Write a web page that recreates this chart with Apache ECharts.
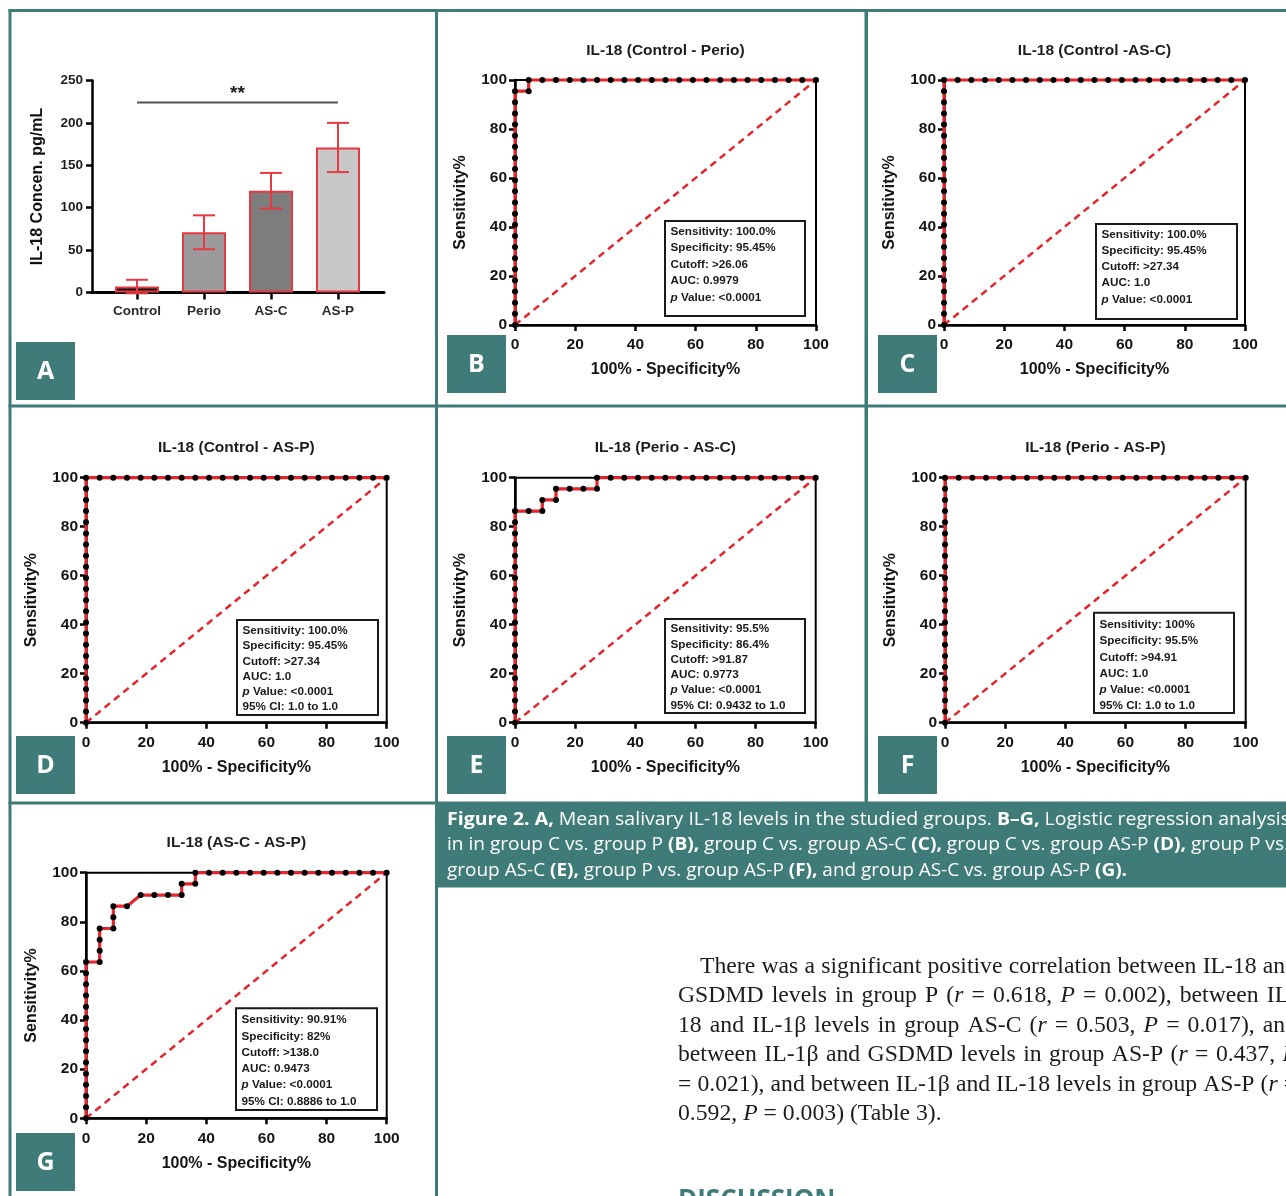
<!DOCTYPE html>
<html>
<head>
<meta charset="utf-8">
<title>Figure 2 – salivary IL-18 and ROC analysis</title>
<script src="https://cdn.jsdelivr.net/npm/echarts@6/dist/echarts.min.js"></script>
<style>
  html, body { margin: 0; padding: 0; background: #fff; }
  #fig { width: 1286px; height: 1196px; }
</style>
</head>
<body>
<div id="fig"></div>
<script>
// ---------------- Panel A: mean salivary IL-18 (pg/mL) ----------------
const groups = ['Control', 'Perio', 'AS-C', 'AS-P'];
const il18Mean = [7, 71, 120, 171];
const il18Err = [8, 20, 21, 29];
// significance bracket: [from group index, to group index, level]
const sigBracket = [[0, 3, 224]];
const sigLabels = ['**'];

// ---------------- Panels B–G: ROC points [100% - specificity, sensitivity] ----------------
const rocB = [[0,0],[0,4.55],[0,9.09],[0,13.64],[0,18.18],[0,22.73],[0,27.27],[0,31.82],[0,36.36],[0,40.91],[0,45.45],[0,50],[0,54.55],[0,59.09],[0,63.64],[0,68.18],[0,72.73],[0,77.27],[0,81.82],[0,86.36],[0,90.91],[0,95.45],[4.55,95.45],[4.55,100],[9.09,100],[13.64,100],[18.18,100],[22.73,100],[27.27,100],[31.82,100],[36.36,100],[40.91,100],[45.45,100],[50,100],[54.55,100],[59.09,100],[63.64,100],[68.18,100],[72.73,100],[77.27,100],[81.82,100],[86.36,100],[90.91,100],[95.45,100],[100,100]];
const rocC = [[0,0],[0,4.55],[0,9.09],[0,13.64],[0,18.18],[0,22.73],[0,27.27],[0,31.82],[0,36.36],[0,40.91],[0,45.45],[0,50],[0,54.55],[0,59.09],[0,63.64],[0,68.18],[0,72.73],[0,77.27],[0,81.82],[0,86.36],[0,90.91],[0,95.45],[0,100],[4.55,100],[9.09,100],[13.64,100],[18.18,100],[22.73,100],[27.27,100],[31.82,100],[36.36,100],[40.91,100],[45.45,100],[50,100],[54.55,100],[59.09,100],[63.64,100],[68.18,100],[72.73,100],[77.27,100],[81.82,100],[86.36,100],[90.91,100],[95.45,100],[100,100]];
const rocD = [[0,0],[0,4.55],[0,9.09],[0,13.64],[0,18.18],[0,22.73],[0,27.27],[0,31.82],[0,36.36],[0,40.91],[0,45.45],[0,50],[0,54.55],[0,59.09],[0,63.64],[0,68.18],[0,72.73],[0,77.27],[0,81.82],[0,86.36],[0,90.91],[0,95.45],[0,100],[4.55,100],[9.09,100],[13.64,100],[18.18,100],[22.73,100],[27.27,100],[31.82,100],[36.36,100],[40.91,100],[45.45,100],[50,100],[54.55,100],[59.09,100],[63.64,100],[68.18,100],[72.73,100],[77.27,100],[81.82,100],[86.36,100],[90.91,100],[95.45,100],[100,100]];
const rocE = [[0,0],[0,4.55],[0,9.09],[0,13.64],[0,18.18],[0,22.73],[0,27.27],[0,31.82],[0,36.36],[0,40.91],[0,45.45],[0,50],[0,54.55],[0,59.09],[0,63.64],[0,68.18],[0,72.73],[0,77.27],[0,81.82],[0,86.36],[4.55,86.36],[9.09,86.36],[9.09,90.91],[13.64,90.91],[13.64,95.45],[18.18,95.45],[22.73,95.45],[27.27,95.45],[27.27,100],[31.82,100],[36.36,100],[40.91,100],[45.45,100],[50,100],[54.55,100],[59.09,100],[63.64,100],[68.18,100],[72.73,100],[77.27,100],[81.82,100],[86.36,100],[90.91,100],[95.45,100],[100,100]];
const rocF = [[0,0],[0,4.55],[0,9.09],[0,13.64],[0,18.18],[0,22.73],[0,27.27],[0,31.82],[0,36.36],[0,40.91],[0,45.45],[0,50],[0,54.55],[0,59.09],[0,63.64],[0,68.18],[0,72.73],[0,77.27],[0,81.82],[0,86.36],[0,90.91],[0,95.45],[0,100],[4.55,100],[9.09,100],[13.64,100],[18.18,100],[22.73,100],[27.27,100],[31.82,100],[36.36,100],[40.91,100],[45.45,100],[50,100],[54.55,100],[59.09,100],[63.64,100],[68.18,100],[72.73,100],[77.27,100],[81.82,100],[86.36,100],[90.91,100],[95.45,100],[100,100]];
const rocG = [[0,0],[0,4.55],[0,9.09],[0,13.64],[0,18.18],[0,22.73],[0,27.27],[0,31.82],[0,36.36],[0,40.91],[0,45.45],[0,50],[0,54.55],[0,59.09],[0,63.64],[4.55,63.64],[4.55,68.18],[4.55,72.73],[4.55,77.27],[9.09,77.27],[9.09,81.82],[9.09,86.36],[13.64,86.36],[18.18,90.91],[22.73,90.91],[27.27,90.91],[31.82,90.91],[31.82,95.45],[36.36,95.45],[36.36,100],[40.91,100],[45.45,100],[50,100],[54.55,100],[59.09,100],[63.64,100],[68.18,100],[72.73,100],[77.27,100],[81.82,100],[86.36,100],[90.91,100],[95.45,100],[100,100]];
const rocChance = [[0,0],[100,100]];

const rocTitles = ['IL-18 (Control - Perio)', 'IL-18 (Control -AS-C)', 'IL-18 (Control - AS-P)',
                   'IL-18 (Perio - AS-C)', 'IL-18 (Perio - AS-P)', 'IL-18 (AS-C - AS-P)'];
const statsB = ['Sensitivity: 100.0%', 'Specificity: 95.45%', 'Cutoff: >26.06', 'AUC: 0.9979', 'p Value: <0.0001'];
const statsC = ['Sensitivity: 100.0%', 'Specificity: 95.45%', 'Cutoff: >27.34', 'AUC: 1.0', 'p Value: <0.0001'];
const statsD = ['Sensitivity: 100.0%', 'Specificity: 95.45%', 'Cutoff: >27.34', 'AUC: 1.0', 'p Value: <0.0001', '95% CI: 1.0 to 1.0'];
const statsE = ['Sensitivity: 95.5%', 'Specificity: 86.4%', 'Cutoff: >91.87', 'AUC: 0.9773', 'p Value: <0.0001', '95% CI: 0.9432 to 1.0'];
const statsF = ['Sensitivity: 100%', 'Specificity: 95.5%', 'Cutoff: >94.91', 'AUC: 1.0', 'p Value: <0.0001', '95% CI: 1.0 to 1.0'];
const statsG = ['Sensitivity: 90.91%', 'Specificity: 82%', 'Cutoff: >138.0', 'AUC: 0.9473', 'p Value: <0.0001', '95% CI: 0.8886 to 1.0'];

// ---------------- caption and body text ----------------
const captionLines = [
  [['Figure 2. A,', 1], [' Mean salivary IL-18 levels in the studied groups. ', 0], ['B–G,', 1], [' Logistic regression analysis', 0]],
  [['in in group C vs. group P ', 0], ['(B),', 1], [' group C vs. group AS-C ', 0], ['(C),', 1], [' group C vs. group AS-P ', 0], ['(D),', 1], [' group P vs.', 0]],
  [['group AS-C ', 0], ['(E),', 1], [' group P vs. group AS-P ', 0], ['(F),', 1], [' and group AS-C vs. group AS-P ', 0], ['(G).', 1]]
];
const bodyLines = [
  'There was a significant positive correlation between IL-18 and',
  'GSDMD levels in group P (_r_ = 0.618, _P_ = 0.002), between IL-',
  '18 and IL-1β levels in group AS-C (_r_ = 0.503, _P_ = 0.017), and',
  'between IL-1β and GSDMD levels in group AS-P (_r_ = 0.437, _P_',
  '= 0.021), and between IL-1β and IL-18 levels in group AS-P (_r_ =',
  '0.592, _P_ = 0.003) (Table 3).'
];

// ---------------- styling ----------------
const TEAL = '#3e7b79';
const RED = '#e4252b';
const BAR_RED = '#e63a40';
const SANS = '"Liberation Sans", Arial, Helvetica, sans-serif';
const SERIF = '"Liberation Serif", "Times New Roman", serif';
const CAPF = '"Open Sans", sans-serif';
const barFills = ['#121212', '#9b9b9d', '#7d7d7d', '#c7c7c7'];

// plot rectangles and stat-box placement of the six ROC panels
const rocLayout = [
  { left: 515, top: 80,    w: 301,   h: 245,   letter: 'B', lx: 447, ly: 335,  box: { dx: 150, dy: 141,   w: 140, h: 95,    first: 10.5, step: 16.5 } },
  { left: 944, top: 80,    w: 301,   h: 245,   letter: 'C', lx: 878, ly: 335,  box: { dx: 152, dy: 144,   w: 141, h: 95,    first: 10.5, step: 16.2 } },
  { left: 86,  top: 477.7, w: 300.7, h: 245,   letter: 'D', lx: 16,  ly: 736,  box: { dx: 151, dy: 142.3, w: 141, h: 95,    first: 10.7, step: 15.3 } },
  { left: 515, top: 477.7, w: 300.7, h: 245,   letter: 'E', lx: 447, ly: 736,  box: { dx: 150, dy: 141.3, w: 140, h: 94,    first: 10,   step: 15.3 } },
  { left: 945, top: 477.7, w: 300.7, h: 245,   letter: 'F', lx: 878, ly: 736,  box: { dx: 149, dy: 135,   w: 140, h: 100.3, first: 12.3, step: 16.2 } },
  { left: 86,  top: 872.7, w: 300.7, h: 245.6, letter: 'G', lx: 16,  ly: 1133, box: { dx: 150, dy: 135.6, w: 141, h: 101.7, first: 11.7, step: 16.3 } }
];
const rocData = [rocB, rocC, rocD, rocE, rocF, rocG];
const rocStats = [statsB, statsC, statsD, statsE, statsF, statsG];

// ---------------- text helpers ----------------
const mctx = document.createElement('canvas').getContext('2d');
function fontOf(r) {
  return (r.i ? 'italic ' : '') + (r.w || 'normal') + ' ' + r.size + 'px ' + r.family;
}
function widthOf(r) { mctx.font = fontOf(r); return mctx.measureText(r.t).width; }
function textEl(r, x, y, sx) {
  return {
    type: 'text', x: x, y: y, scaleX: sx || 1, silent: true, z: 50,
    style: {
      text: r.t, fontFamily: r.family, fontSize: r.size, fontWeight: r.w || 'normal',
      fontStyle: r.i ? 'italic' : 'normal', fill: r.fill, align: r.align || 'left',
      verticalAlign: 'middle'
    }
  };
}

const graphics = [];

// teal frame around the panels
[[8.5, 9, 1277.5, 3], [8.5, 9, 3, 1187], [8.5, 404.5, 1277.5, 3], [8.5, 801.5, 429, 3],
 [435, 9, 3, 1187], [864.5, 9, 3.5, 795]].forEach(function (f) {
  graphics.push({ type: 'rect', silent: true, z: 40, shape: { x: f[0], y: f[1], width: f[2], height: f[3] }, style: { fill: TEAL } });
});
// caption band
graphics.push({ type: 'rect', silent: true, z: 40, shape: { x: 436, y: 801.5, width: 850, height: 86 }, style: { fill: TEAL } });

// panel letters
function letterBox(ch, x, y) {
  graphics.push({ type: 'rect', silent: true, z: 45, shape: { x: x, y: y, width: 59, height: 58 }, style: { fill: TEAL } });
  graphics.push(textEl({ t: ch, family: CAPF, size: 25, w: 'bold', fill: '#fff', align: 'center' }, x + 29.5, y + 29.5));
}
letterBox('A', 16, 342);

// ROC titles, stat boxes and letters
rocLayout.forEach(function (L, i) {
  graphics.push(textEl({ t: rocTitles[i], family: SANS, size: 15.5, w: 'bold', fill: '#1e1e1e', align: 'center' },
                       L.left + L.w / 2, L.top - 29.5));
  const bx = L.left + L.box.dx, by = L.top + L.box.dy;
  graphics.push({ type: 'rect', silent: true, z: 20, shape: { x: bx, y: by, width: L.box.w, height: L.box.h },
                  style: { fill: '#fff', stroke: '#1a1a1a', lineWidth: 2 } });
  rocStats[i].forEach(function (line, k) {
    const y = by + L.box.first + k * L.box.step;
    let x = bx + 5.5;
    const runs = line.indexOf('p ') === 0 ? [{ t: 'p', i: 1 }, { t: line.slice(1) }] : [{ t: line }];
    runs.forEach(function (r) {
      r.family = SANS; r.size = 11.7; r.w = 'bold'; r.fill = '#1a1a1a';
      graphics.push(textEl(r, x, y));
      x += widthOf(r);
    });
  });
  letterBox(L.letter, L.lx, L.ly);
});

// caption: each line condensed to its printed measure
(function () {
  const size = 18;
  const ends = [1290, 1289, 1127];
  const ys = [819.5, 845, 870.5];
  captionLines.forEach(function (segs, li) {
    const runs = segs.map(function (s) { return { t: s[0], w: s[1] ? 'bold' : 'normal', family: CAPF, size: size, fill: '#fff' }; });
    const natural = runs.reduce(function (a, r) { return a + widthOf(r); }, 0);
    const sx = (ends[li] - 447) / natural;
    let x = 447;
    runs.forEach(function (r) { graphics.push(textEl(r, x, ys[li], sx)); x += widthOf(r) * sx; });
  });
})();

// body paragraph, justified except for its last line
(function () {
  const size = 23, sx = 1.03, left = 678, indent = 22, right = 1297;
  const ys = [966.5, 996, 1025.5, 1055, 1084.5, 1114];
  function parseWord(w) {
    const runs = [];
    w.split('_').forEach(function (p, k) {
      if (p.length) runs.push({ t: p, i: k % 2 === 1, family: SERIF, size: size, fill: '#1c1c1c' });
    });
    return runs;
  }
  const space = widthOf({ t: ' ', family: SERIF, size: size }) * sx;
  bodyLines.forEach(function (line, li) {
    const words = line.split(' ').map(parseWord);
    const widths = words.map(function (runs) { return runs.reduce(function (a, r) { return a + widthOf(r) * sx; }, 0); });
    const total = widths.reduce(function (a, b) { return a + b; }, 0);
    const x0 = left + (li === 0 ? indent : 0);
    const gap = li < bodyLines.length - 1 ? (right - x0 - total) / (words.length - 1) : space;
    let x = x0;
    words.forEach(function (runs, wi) {
      let xx = x;
      runs.forEach(function (r) { graphics.push(textEl(r, xx, ys[li], sx)); xx += widthOf(r) * sx; });
      x += widths[wi] + gap;
    });
  });
  graphics.push(textEl({ t: 'DISCUSSION', family: CAPF, size: 26, w: 'bold', fill: TEAL }, 678, 1201));
})();

// ---------------- axes, grids and series ----------------
const grids = [
  { left: 92, top: 80.5, width: 292, height: 212 },      // panel A axis frame
  { left: 103.5, top: 80.5, width: 268, height: 212 }    // panel A categories
];
const xAxes = [
  { gridIndex: 0, type: 'value', min: 0, max: 1, axisLine: { onZero: false, lineStyle: { color: '#000', width: 3 } },
    axisTick: { show: false }, axisLabel: { show: false }, splitLine: { show: false } },
  { gridIndex: 1, type: 'category', data: groups, boundaryGap: true, axisLine: { show: false },
    axisTick: { show: true, alignWithLabel: true, length: 7, lineStyle: { color: '#000', width: 2.5 } },
    axisLabel: { fontFamily: SANS, fontWeight: 'bold', fontSize: 13.5, color: '#2a2a2a', margin: 12 } }
];
const yAxes = [
  { gridIndex: 0, type: 'value', min: 0, max: 250, interval: 50,
    axisLine: { show: true, lineStyle: { color: '#000', width: 2.5 } },
    axisTick: { show: true, length: 6, lineStyle: { color: '#000', width: 2.5 } },
    axisLabel: { fontFamily: SANS, fontWeight: 'bold', fontSize: 13.5, color: '#1e1e1e', margin: 9 },
    splitLine: { show: false },
    name: 'IL-18 Concen. pg/mL', nameLocation: 'middle', nameGap: 46,
    nameTextStyle: { fontFamily: SANS, fontWeight: 'bold', fontSize: 16, color: '#111' } },
  { gridIndex: 1, type: 'value', min: 0, max: 250, show: false }
];
const series = [
  { type: 'bar', xAxisIndex: 1, yAxisIndex: 1, barWidth: 44, silent: true, z: 2,
    data: il18Mean.map(function (v, i) { return { value: v, itemStyle: { color: barFills[i] } }; }),
    itemStyle: { borderColor: BAR_RED, borderWidth: 2 } },
  { type: 'custom', xAxisIndex: 1, yAxisIndex: 1, silent: true, z: 4,
    encode: { x: 0, y: [1, 2] },
    data: groups.map(function (g, i) { return [i, il18Mean[i] - il18Err[i], il18Mean[i] + il18Err[i]]; }),
    renderItem: function (params, api) {
      const lo = api.coord([api.value(0), api.value(1)]);
      const hi = api.coord([api.value(0), api.value(2)]);
      const cap = 11;
      const st = { stroke: BAR_RED, lineWidth: 2 };
      return { type: 'group', children: [
        { type: 'line', shape: { x1: lo[0], y1: lo[1], x2: hi[0], y2: hi[1] }, style: st },
        { type: 'line', shape: { x1: hi[0] - cap, y1: hi[1], x2: hi[0] + cap, y2: hi[1] }, style: st },
        { type: 'line', shape: { x1: lo[0] - cap, y1: lo[1], x2: lo[0] + cap, y2: lo[1] }, style: st }
      ] };
    } },
  { type: 'custom', xAxisIndex: 1, yAxisIndex: 1, silent: true, z: 4,
    encode: { x: [0, 1], y: 2 },
    data: sigBracket,
    renderItem: function (params, api) {
      const a = api.coord([api.value(0), api.value(2)]);
      const b = api.coord([api.value(1), api.value(2)]);
      return { type: 'group', children: [
        { type: 'line', shape: { x1: a[0], y1: a[1], x2: b[0], y2: b[1] }, style: { stroke: '#555', lineWidth: 2 } },
        { type: 'text', x: (a[0] + b[0]) / 2, y: a[1] - 9,
          style: { text: sigLabels[params.dataIndex], fontFamily: SANS, fontWeight: 'bold', fontSize: 19,
                   fill: '#222', align: 'center', verticalAlign: 'middle' } }
      ] };
    } }
];

rocLayout.forEach(function (L, i) {
  const gi = grids.length;
  grids.push({ left: L.left, top: L.top, width: L.w, height: L.h, show: true, borderColor: '#000', borderWidth: 2 });
  const tickFont = { fontFamily: SANS, fontWeight: 'bold', fontSize: 15.5, color: '#141414' };
  const nameFont = { fontFamily: SANS, fontWeight: 'bold', fontSize: 16, color: '#141414' };
  xAxes.push({ gridIndex: gi, type: 'value', min: 0, max: 100, interval: 20,
    axisLine: { show: true, onZero: false, lineStyle: { color: '#000', width: 2.5 } },
    axisTick: { show: true, length: 6, lineStyle: { color: '#000', width: 2.5 } },
    axisLabel: Object.assign({ margin: 12 }, tickFont), splitLine: { show: false },
    name: '100% - Specificity%', nameLocation: 'middle', nameGap: 37, nameTextStyle: nameFont });
  yAxes.push({ gridIndex: gi, type: 'value', min: 0, max: 100, interval: 20,
    axisLine: { show: true, onZero: false, lineStyle: { color: '#000', width: 2.5 } },
    axisTick: { show: true, length: 6, lineStyle: { color: '#000', width: 2.5 } },
    axisLabel: Object.assign({ margin: 8 }, tickFont), splitLine: { show: false },
    name: 'Sensitivity%', nameLocation: 'middle', nameGap: 46, nameTextStyle: nameFont });
  series.push({ type: 'line', xAxisIndex: gi, yAxisIndex: gi, data: rocChance, symbol: 'none', clip: false, silent: true, z: 3,
    lineStyle: { color: RED, width: 2.5, type: [7, 5] } });
  series.push({ type: 'line', xAxisIndex: gi, yAxisIndex: gi, data: rocData[i], clip: false, silent: true, z: 5,
    symbol: 'circle', symbolSize: 6, showSymbol: true, showAllSymbol: true,
    itemStyle: { color: '#000' }, lineStyle: { color: RED, width: 3.2 } });
});

const chart = echarts.init(document.getElementById('fig'), null, { renderer: 'canvas', width: 1286, height: 1196 });
chart.setOption({
  animation: false,
  backgroundColor: '#fff',
  textStyle: { fontFamily: SANS },
  grid: grids,
  xAxis: xAxes,
  yAxis: yAxes,
  series: series,
  graphic: { elements: graphics }
});
</script>
</body>
</html>
